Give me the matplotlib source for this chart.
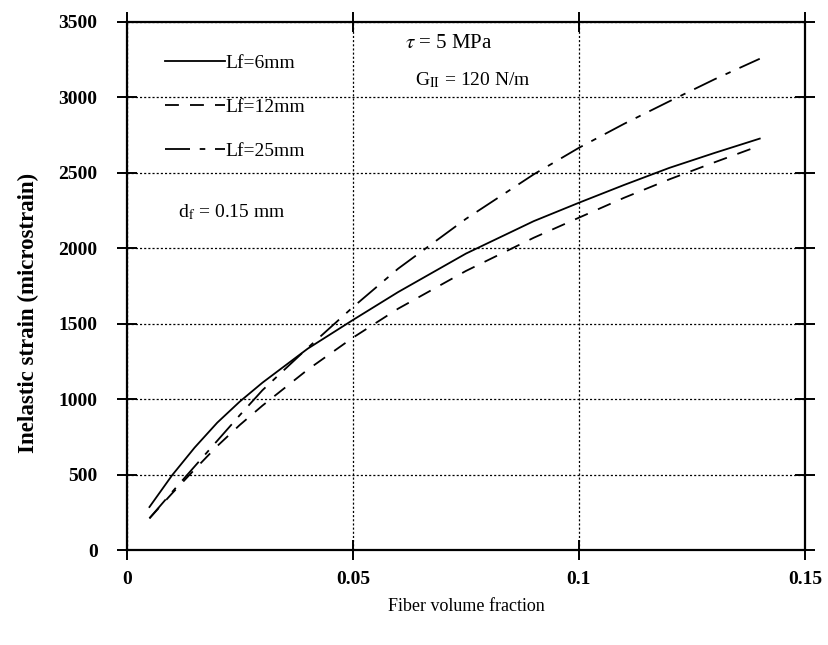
import matplotlib
matplotlib.use("Agg")
import matplotlib.pyplot as plt

# values
vf = [0.005, 0.01, 0.015, 0.02, 0.025, 0.03, 0.04, 0.05, 0.06, 0.075,
      0.09, 0.1, 0.11, 0.12, 0.13, 0.14]
lf6 = [286, 496, 680, 845, 985, 1110, 1335, 1525, 1710, 1965,
       2180, 2302, 2420, 2533, 2632, 2727]
lf12 = [211, 376, 535, 690, 830, 958, 1196, 1408, 1600, 1850,
        2070, 2203, 2335, 2457, 2570, 2680]
lf25 = [211, 385, 555, 725, 895, 1060, 1340, 1610, 1865, 2195,
        2490, 2666, 2825, 2974, 3120, 3256]

xticks = [0, 0.05, 0.1, 0.15]
xtick_labels = ["0", "0.05", "0.1", "0.15"]
yticks = [0, 500, 1000, 1500, 2000, 2500, 3000, 3500]

plt.rcParams["font.family"] = ["Liberation Serif", "DejaVu Serif"]
plt.rcParams["mathtext.fontset"] = "stix"
plt.rcParams["lines.scale_dashes"] = False

fig = plt.figure(figsize=(8.29, 6.45), dpi=100)
ax = fig.add_axes([0.153, 0.147, 0.818, 0.819])

ax.plot(vf, lf6, color="black", lw=1.3, ls="-", label="Lf=6mm")
ax.plot(vf, lf12, color="black", lw=1.3, ls=(0, (10, 8)), label="Lf=12mm")
ax.plot(vf, lf25, color="black", lw=1.3, ls=(0, (18, 7, 4, 7)), label="Lf=25mm")

ax.set_xlim(0, 0.15)
ax.set_ylim(0, 3500)
ax.set_xticks(xticks)
ax.set_xticklabels(xtick_labels)
ax.set_yticks(yticks)
ax.grid(True, color="black", ls=(0, (1.5, 1.5)), lw=0.9)

for s in ax.spines.values():
    s.set_linewidth(1.6)
ax.tick_params(direction="inout", length=14, width=1.4, top=True, right=True,
               labelsize=14)
ax.tick_params(axis="x", pad=8)
ax.tick_params(axis="y", pad=14)
for lab in ax.get_xticklabels() + ax.get_yticklabels():
    lab.set_fontweight("bold")

ax.set_xlabel("Fiber volume fraction", fontsize=13, labelpad=7)
ax.set_ylabel("Inelastic strain (microstrain)", fontsize=16.5, fontweight="bold")
ax.yaxis.set_label_coords(-0.13, 0.45)

leg = ax.legend(loc="upper left", bbox_to_anchor=(0.03, 0.972), frameon=False,
                fontsize=14, handlelength=3.1, handletextpad=0.0,
                labelspacing=1.35)

ax.text(0.41, 0.96, r"$\tau$ = 5 MPa", transform=ax.transAxes, fontsize=15,
        va="center")
ax.text(0.425, 0.89, r"G$_{\mathrm{II}}$ = 120 N/m", transform=ax.transAxes,
        fontsize=14, va="center")
ax.text(0.075, 0.64, r"d$_{\mathrm{f}}$ = 0.15 mm", transform=ax.transAxes,
        fontsize=14, va="center")

fig.savefig("out.png", dpi=100)
